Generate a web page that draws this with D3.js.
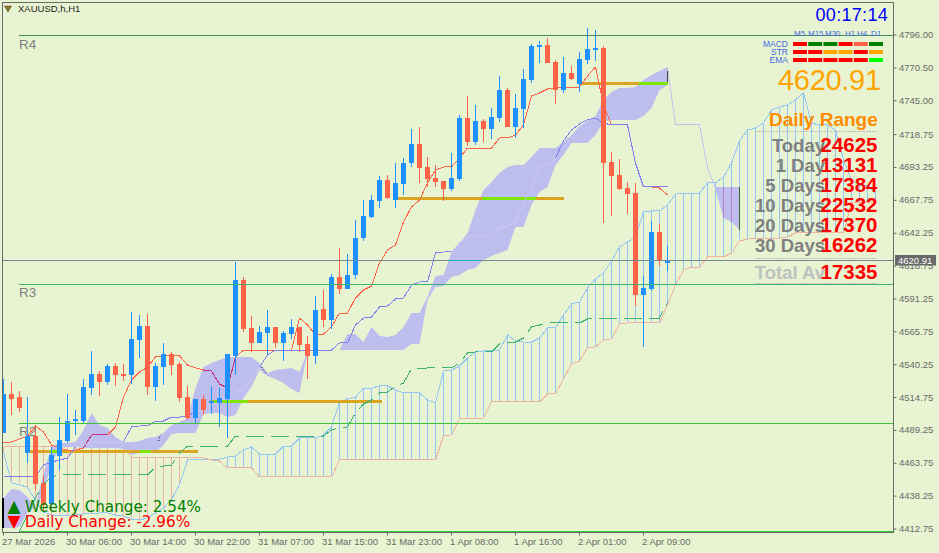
<!DOCTYPE html>
<html>
<head>
<meta charset="utf-8">
<script src="https://cdn.jsdelivr.net/npm/d3@7"></script>
<style>
html, body { margin: 0; padding: 0; background: #E8F4D1; overflow: hidden; }
svg { display: block; font-family: "Liberation Sans", Arial, sans-serif; }
.axis text { fill: #696969; font-size: 9.5px; font-family: "Liberation Sans", Arial, sans-serif; }
.axis line { stroke: #696969; }
</style>
</head>
<body>
<div id="chart"></div>
<script>
// candles, one per hour
var opens = [4487.2,4517.5,4515.2,4471.7,4484.9,4448.5,4432.2,4469.4,4481.0,4496.5,
    4496.5,4522.1,4533.0,4526.8,4539.2,4533.0,4532.2,4559.4,4570.2,4522.9,
    4538.4,4548.5,4540.8,4515.2,4498.9,4513.6,4510.5,4510.5,4513.6,4547.0,
    4605.9,4568.7,4557.1,4564.8,4569.5,4557.1,4564.0,4569.5,4556.3,4547.0,
    4583.4,4574.9,4608.2,4598.9,4609.8,4638.5,4654.8,4667.2,4683.5,4668.0,
    4680.4,4696.7,4711.4,4693.6,4685.0,4682.7,4676.5,4684.3,4731.6,4713.0,
    4729.3,4723.1,4731.6,4753.3,4724.6,4738.6,4761.1,4786.7,4788.2,4775.0,
    4753.3,4766.5,4758.0,4776.6,4784.4,4785.9,4697.5,4687.4,4677.3,4673.4,
    4594.3,4598.9,4643.2,4620.7];
var highs = [4529.1,4526.8,4519.8,4515.2,4493.4,4454.7,4476.4,4499.6,4517.5,4505.1,
    4529.1,4550.9,4535.3,4540.8,4541.5,4540.8,4581.1,4578.8,4579.5,4541.5,
    4557.1,4550.1,4542.3,4523.7,4513.6,4516.7,4523.7,4522.1,4548.5,4619.9,
    4608.2,4578.0,4570.2,4582.6,4569.5,4566.4,4575.7,4569.5,4562.5,4593.5,
    4598.2,4610.6,4630.8,4626.1,4652.5,4668.0,4671.9,4686.6,4687.4,4696.7,
    4700.6,4723.1,4724.6,4701.3,4695.1,4682.7,4704.4,4733.9,4748.7,4741.7,
    4730.8,4739.4,4764.2,4754.9,4750.2,4769.6,4789.0,4791.3,4793.7,4776.6,
    4778.9,4771.9,4782.8,4801.4,4799.9,4787.5,4705.2,4699.8,4681.9,4681.2,
    4609.0,4651.7,4649.4,4632.3];
var lows = [4487.2,4501.2,4503.5,4464.0,4443.0,4427.5,4431.4,4458.5,4479.5,4485.7,
    4495.0,4516.7,4515.9,4524.5,4523.7,4527.6,4525.2,4545.4,4516.7,4512.1,
    4524.5,4532.2,4511.3,4497.3,4495.0,4501.2,4502.0,4491.9,4483.4,4532.2,
    4565.6,4550.1,4557.1,4548.5,4553.2,4543.1,4560.2,4550.1,4529.1,4540.8,
    4569.5,4567.9,4595.1,4598.9,4606.7,4636.2,4654.0,4661.8,4668.8,4661.8,
    4671.9,4693.6,4681.2,4678.1,4678.1,4667.2,4675.0,4682.7,4709.9,4710.6,
    4713.0,4715.3,4728.5,4724.6,4716.1,4723.8,4758.7,4774.3,4774.3,4742.5,
    4751.0,4761.1,4751.8,4773.5,4775.8,4650.1,4655.6,4675.8,4657.1,4585.8,
    4554.0,4597.4,4616.8,4612.9];
var closes = [4517.5,4513.6,4506.6,4484.9,4447.7,4431.4,4470.2,4481.8,4496.5,4498.1,
    4522.9,4533.0,4526.8,4539.2,4532.2,4532.2,4560.2,4570.2,4522.9,4539.2,
    4548.5,4540.0,4514.4,4498.9,4513.6,4505.1,4512.1,4514.4,4548.5,4605.9,
    4567.9,4557.1,4565.6,4569.5,4557.1,4564.8,4569.5,4555.5,4547.0,4582.6,
    4574.9,4608.2,4598.9,4609.8,4638.5,4655.6,4668.0,4683.5,4669.5,4681.2,
    4696.7,4711.4,4692.8,4684.3,4681.9,4676.5,4685.0,4731.6,4713.0,4729.3,
    4723.1,4732.4,4753.3,4724.6,4739.4,4761.9,4787.5,4788.2,4774.3,4753.3,
    4766.5,4761.9,4777.4,4785.1,4785.9,4696.7,4686.6,4676.5,4672.6,4594.3,
    4599.7,4643.2,4620.7,4620.91];

// ichimoku lines
var tenkan = [4479.5,4480.3,4482.6,4484.9,4492.7,4488.0,4477.9,4475.6,4474.0,4474.0,
    4475.6,4485.7,4485.7,4485.7,4491.9,4515.2,4528.3,4534.5,4538.4,4546.2,
    4547.0,4547.0,4547.0,4540.0,4537.7,4536.1,4535.3,4525.2,4522.1,4546.2,
    4551.6,4551.6,4551.6,4551.6,4551.6,4551.6,4551.6,4576.4,4571.0,4563.3,
    4564.0,4569.5,4580.3,4580.3,4592.0,4598.2,4601.3,4619.1,4629.2,4633.1,
    4650.9,4662.6,4668.0,4681.2,4691.3,4693.6,4693.6,4700.6,4708.3,4708.3,
    4708.3,4708.3,4716.1,4716.1,4718.4,4726.2,4748.7,4751.0,4754.1,4754.9,
    4754.9,4754.9,4755.7,4764.2,4771.2,4741.7,4726.2,4726.2,4726.2,4696.7,
    4678.1,4678.1,4677.3,4671.9];
var kijun = [4453.1,4453.1,4453.1,4453.1,4453.1,4462.4,4464.7,4466.3,4467.8,4476.4,
    4477.9,4479.5,4479.5,4479.5,4479.5,4480.3,4491.9,4492.7,4492.7,4496.5,
    4496.5,4499.6,4499.6,4500.4,4503.5,4505.1,4508.9,4511.3,4516.7,4519.0,
    4520.6,4528.3,4538.4,4547.7,4551.6,4551.6,4551.6,4551.6,4551.6,4551.6,
    4551.6,4551.6,4557.1,4557.1,4571.0,4576.4,4577.2,4585.0,4585.8,4591.2,
    4592.0,4602.0,4604.4,4604.4,4626.9,4627.7,4627.7,4634.6,4639.3,4639.3,
    4639.3,4639.3,4646.3,4647.8,4650.9,4665.7,4678.1,4693.6,4695.1,4700.6,
    4713.8,4722.3,4727.0,4730.1,4731.6,4727.7,4726.2,4726.2,4726.2,4696.7,
    4678.1,4678.1,4678.1,4678.1];
// the pale line running on past the last candle, bars 83 to 89
var paleLine = [4771.2,4726.2,4726.2,4726.2,4726.2,4692.8,4677.3];
// dashed green line, starts at bar 2
var laggingLine = [4411.2,4423.6,4436.8,4447.7,4453.1,4454.7,4454.7,4454.7,4454.7,4454.7,
    4454.7,4454.7,4454.7,4454.7,4454.7,4454.7,4454.7,4460.8,4461.6,4462.4,
    4471.7,4477.1,4477.1,4477.1,4477.1,4477.1,4477.1,4484.9,4484.9,4484.9,
    4484.9,4484.9,4484.9,4484.9,4484.9,4484.9,4484.9,4484.9,4484.9,4489.6,
    4491.1,4491.9,4502.8,4509.7,4512.8,4518.3,4519.0,4523.7,4526.0,4536.9,
    4536.9,4537.7,4537.7,4537.7,4537.7,4541.5,4549.3,4550.1,4550.1,4550.1,
    4556.3,4557.1,4557.8,4560.9,4569.5,4571.0,4572.6,4572.6,4572.6,4572.6,
    4572.6,4575.7,4576.4,4576.4,4576.4,4576.4,4576.4,4576.4,4576.4,4576.4,
    4576.4,4588.1];

// hatched band, runs past the candles
var bandBlue = [4472.5,4448.5,4446.9,4445.3,4435.2,4425.9,4423.6,4423.6,4423.6,4423.6,
    4424.4,4424.4,4425.2,4425.2,4423.6,4422.8,4420.5,4419.7,4421.3,4425.2,
    4429.0,4436.0,4446.9,4466.3,4467.0,4467.0,4467.0,4467.0,4468.6,4469.4,
    4474.0,4476.4,4470.9,4470.2,4470.9,4477.1,4477.1,4483.4,4483.4,4483.4,
    4485.7,4491.9,4511.3,4513.6,4515.2,4522.1,4522.1,4523.7,4523.7,4520.6,
    4518.3,4518.3,4518.3,4512.8,4510.5,4535.3,4536.1,4539.2,4545.4,4550.1,
    4550.9,4550.9,4551.6,4563.3,4558.6,4557.8,4557.8,4560.9,4568.7,4568.7,
    4578.8,4587.3,4588.9,4599.7,4606.7,4611.4,4620.7,4631.5,4635.4,4639.3,
    4658.7,4659.5,4659.5,4664.1,4672.6,4673.4,4673.4,4673.4,4681.2,4681.2,
    4685.8,4696.7,4713.8,4722.3,4723.8,4727.7,4737.8,4740.1,4741.7,4745.6,
    4751.0,4727.7,4726.2,4726.2,4722.3,4699.0,4683.5,4679.6,4679.6,4673.4];
var bandSalmon = [4476.4,4476.4,4476.4,4476.4,4476.4,4476.4,4476.4,4476.4,4476.4,4476.4,
    4476.4,4476.4,4476.4,4476.4,4476.4,4476.4,4468.6,4468.6,4468.6,4468.6,
    4468.6,4468.6,4468.6,4468.6,4468.6,4467.8,4466.3,4465.5,4460.1,4460.1,
    4460.1,4460.1,4453.1,4453.1,4453.1,4453.1,4453.1,4453.1,4453.1,4453.1,
    4453.1,4453.1,4466.3,4466.3,4466.3,4466.3,4466.3,4466.3,4466.3,4466.3,
    4466.3,4466.3,4466.3,4466.3,4466.3,4484.9,4485.7,4498.1,4498.1,4498.1,
    4498.9,4511.3,4511.3,4511.3,4511.3,4511.3,4511.3,4511.3,4517.5,4517.5,
    4529.1,4540.8,4543.1,4553.2,4554.0,4559.4,4560.2,4571.8,4572.6,4572.6,
    4572.6,4572.6,4572.6,4586.5,4602.0,4613.7,4616.0,4616.0,4623.8,4623.8,
    4623.8,4626.9,4636.2,4637.7,4638.5,4638.5,4638.5,4638.5,4639.3,4642.4,
    4642.4,4642.4,4642.4,4642.4,4642.4,4642.4,4665.7,4665.7,4665.7,4665.7];

// cloud edges per bar, null where there is no cloud
var cloudTop = [4436.8,4443.8,4443.0,4437.6,4429.8,4456.2,4476.4,4479.5,4479.5,4480.3,
    4489.6,4502.8,4493.4,4491.1,4484.1,4480.3,4480.3,4481.0,4483.4,4484.1,
    4487.2,4493.4,4495.8,4498.9,4522.1,4538.4,4541.5,4543.9,4546.2,4546.2,
    4546.2,4546.2,4541.5,4533.8,4536.1,4536.9,4537.7,4534.5,4550.9,null,
    null,null,4551.6,4564.0,4564.0,4557.8,4569.5,4562.5,4561.7,4563.3,
    4569.5,4580.3,4580.3,4592.7,4609.0,4609.8,4627.7,4634.6,4642.4,4660.2,
    4675.8,4681.9,4688.9,4693.6,4695.1,4695.1,4701.3,4708.3,4708.3,4708.3,
    4713.0,4718.4,4725.4,4729.3,4733.2,4745.6,4751.8,4754.9,4754.9,4755.7,
    4761.1,4765.0,4768.1,4771.2,null,null,null,null,null,4678.1,
    4678.1,4678.1,4678.1];
var cloudBottom = [4413.5,4413.5,4414.3,4425.2,4429.8,4440.7,4464.0,4475.6,4476.4,4476.4,
    4475.6,4475.6,4475.6,4475.6,4475.6,4474.8,4470.2,4471.7,4471.7,4472.5,
    4477.9,4486.5,4487.2,4487.2,4487.2,4502.0,4502.8,4502.8,4499.6,4501.2,
    4514.4,4522.9,4536.1,4531.5,4529.1,4526.0,4521.4,4518.3,4550.1,null,
    null,null,4551.6,4551.6,4551.6,4551.6,4551.6,4551.6,4551.6,4551.6,
    4551.6,4556.3,4556.3,4590.4,4600.5,4601.3,4608.2,4609.8,4613.7,4615.2,
    4621.4,4624.6,4626.9,4629.2,4647.0,4647.0,4664.1,4674.2,4678.1,4695.1,
    4702.9,4712.2,4712.2,4712.2,4718.4,4728.5,4730.1,4730.1,4730.1,4730.1,
    4733.2,4739.4,4753.3,4757.2,null,null,null,null,null,4675.8,
    4654.0,4650.9,4644.7];

// thick level segments: start bar, end bar, price
var levelStarts = [3.1, 25.75, 49.25, 72.1];
var levelEnds = [24.25, 47.25, 70.1, 83];
var levelPrices = [4472.5, 4511.3, 4668.8, 4758.7];
// lime parts of those levels
var limeStarts = [5.8, 17, 26.25, 59.75, 79.4];
var limeEnds = [7.2, 18.4, 30.5, 66.5, 83];
var limePrices = [4472.5, 4472.5, 4511.3, 4668.8, 4758.7];

var pivotNames = ['R4', 'R3', 'R2', ''];
var pivotPrices = [4796, 4602.8, 4494.9, 4410.9];

var lastPrice = 4620.91;
var yTicks = [4796.00,4770.50,4745.00,4718.75,4693.25,4667.75,4642.25,4616.75,4591.25,4565.75,4540.25,4514.75,4489.25,4463.75,4438.25,4412.75];
var xTickBars = [0,8,16,24,32,40,48,56,64,72,80];
var xTickLabels = ['27 Mar 2026','30 Mar 06:00','30 Mar 14:00','30 Mar 22:00','31 Mar 07:00','31 Mar 15:00','31 Mar 23:00','1 Apr 08:00','1 Apr 16:00','2 Apr 01:00','2 Apr 09:00'];

// signal panel
var timeframes = ['M5','M15','M30','H1','H4','D1'];
var macdStates = ['sell','buy','buy','sell','weak','buy'];
var strStates = ['sell','sell','flat','flat','sell','flat'];
var emaStates = ['sell','sell','sell','sell','sell','strong'];
var rangeLabels = ['Today','1 Day','5 Days','10 Days','20 Days','30 Days','Total Av'];
var rangeValues = [24625,13131,17384,22532,17370,16262,17335];

var width = 939,
    height = 553,
    blue = '#1E90FF',
    red = '#FF6347';

var x = d3.scaleLinear().domain([0, 1]).range([3.5, 11.5]);
var y = d3.scaleLinear().domain([4412.75, 4796]).range([529, 35]);

var svg = d3.select('#chart').append('svg')
    .attr('width', width)
    .attr('height', height);

svg.append('defs').append('clipPath').attr('id', 'plot')
    .append('rect').attr('x', 3).attr('y', 3).attr('width', 890).attr('height', 529);

var plot = svg.append('g').attr('clip-path', 'url(#plot)');

function crisp(v) { return Math.floor(v) + 0.5; }

// hatch
var hatch = plot.append('g').attr('shape-rendering', 'crispEdges');
hatch.selectAll('line').data(bandBlue).enter().append('line')
    .attr('x1', function (d, i) { return x(i); })
    .attr('x2', function (d, i) { return x(i); })
    .attr('y1', function (d) { return y(d); })
    .attr('y2', function (d, i) { return y(bandSalmon[i]); })
    .attr('stroke', function (d, i) { return d >= bandSalmon[i] ? '#93C6F5' : '#EFB4A0'; });

function drawLine(values, start, color, dash) {
    var line = d3.line()
        .x(function (d, i) { return x(i + start); })
        .y(function (d) { return y(d); });
    return plot.append('path')
        .attr('d', line(values))
        .attr('fill', 'none')
        .attr('stroke', color)
        .attr('stroke-dasharray', dash || null)
        .attr('shape-rendering', 'crispEdges');
}

drawLine(bandBlue, 0, '#93C6F5');
drawLine(bandSalmon, 0, '#EFB4A0');

// cloud
var area = d3.area()
    .defined(function (d) { return d != null; })
    .x(function (d, i) { return x(i); })
    .y0(function (d, i) { return y(cloudBottom[i]); })
    .y1(function (d) { return y(d); });
plot.append('path').attr('d', area(cloudTop)).attr('fill', '#BEBEEE');

// hatch lines that show through the last cloud, and its closing edges
[90, 91].forEach(function (i) {
    plot.append('line').attr('x1', x(i)).attr('x2', x(i))
        .attr('y1', y(cloudTop[i])).attr('y2', y(cloudBottom[i]))
        .attr('stroke', '#B57FD0').attr('shape-rendering', 'crispEdges');
});
[[83, '#444444'], [92, '#2F6B2F']].forEach(function (e) {
    plot.append('line').attr('x1', x(e[0])).attr('x2', x(e[0]))
        .attr('y1', y(cloudTop[e[0]])).attr('y2', y(cloudBottom[e[0]]))
        .attr('stroke', e[1]).attr('shape-rendering', 'crispEdges');
});

// levels
plot.selectAll('.level').data(levelPrices).enter().append('line')
    .attr('class', 'level')
    .attr('x1', function (d, i) { return x(levelStarts[i]); })
    .attr('x2', function (d, i) { return x(levelEnds[i]); })
    .attr('y1', function (d) { return y(d); })
    .attr('y2', function (d) { return y(d); })
    .attr('stroke', '#DAA520')
    .attr('stroke-width', 3)
    .attr('shape-rendering', 'crispEdges');
plot.selectAll('.lime').data(limePrices).enter().append('line')
    .attr('class', 'lime')
    .attr('x1', function (d, i) { return x(limeStarts[i]); })
    .attr('x2', function (d, i) { return x(limeEnds[i]); })
    .attr('y1', function (d) { return y(d); })
    .attr('y2', function (d) { return y(d); })
    .attr('stroke', '#7FE600')
    .attr('stroke-width', 3)
    .attr('shape-rendering', 'crispEdges');

// pivots and the last price line
var pivotColor = d3.scaleOrdinal().domain(pivotNames).range(['#3F8F5B', '#3CB371', '#3CC43C', '#32CD32']);
svg.selectAll('.pivot').data(pivotPrices).enter().append('line')
    .attr('class', 'pivot')
    .attr('x1', 19)
    .attr('x2', 893)
    .attr('y1', function (d) { return crisp(y(d)); })
    .attr('y2', function (d) { return crisp(y(d)); })
    .attr('stroke', function (d, i) { return pivotColor(pivotNames[i]); })
    .attr('shape-rendering', 'crispEdges');

svg.append('line')
    .attr('x1', 3).attr('x2', 893)
    .attr('y1', crisp(y(lastPrice))).attr('y2', crisp(y(lastPrice)))
    .attr('stroke', '#778899')
    .attr('shape-rendering', 'crispEdges');
svg.append('line')
    .attr('x1', x(55.6)).attr('x2', x(59.6))
    .attr('y1', crisp(y(lastPrice))).attr('y2', crisp(y(lastPrice)))
    .attr('stroke', '#18B8B8')
    .attr('shape-rendering', 'crispEdges');

// lines change colour inside the cloud
function insideCloud(v, i) {
    return cloudTop[i] != null && v <= cloudTop[i] && v >= cloudBottom[i];
}
function drawSegments(values, color, cloudColor) {
    var pairs = d3.pairs(values.map(function (v, i) { return { i: i, v: v }; }));
    plot.append('g').attr('shape-rendering', 'crispEdges')
        .selectAll('line').data(pairs).enter().append('line')
        .attr('x1', function (d) { return x(d[0].i); })
        .attr('x2', function (d) { return x(d[1].i); })
        .attr('y1', function (d) { return y(d[0].v); })
        .attr('y2', function (d) { return y(d[1].v); })
        .attr('stroke', function (d) {
            return insideCloud(d[0].v, d[0].i) && insideCloud(d[1].v, d[1].i) ? cloudColor : color;
        });
}

drawLine(laggingLine.slice(), 2, '#3CB371', '18 7');
drawSegments(tenkan, red, '#C0307A');
drawSegments(kijun, '#8080F0', '#C9C9EC');
drawLine(paleLine, 83, '#C4C4F0');

// small dotted crossings
var crossBars = [[19.4, 19.6], [32.25, 32.9]];
var crossPrices = [[4481.0, 4485.7], [4538.4, 4533.0]];
crossBars.forEach(function (b, i) {
    plot.append('line')
        .attr('x1', x(b[0])).attr('x2', x(b[1]))
        .attr('y1', y(crossPrices[i][0])).attr('y2', y(crossPrices[i][1]))
        .attr('stroke', '#000').attr('stroke-dasharray', '1 2');
});

// candles
var candles = plot.append('g').attr('shape-rendering', 'crispEdges')
    .selectAll('g').data(opens).enter().append('g');
function candleColor(i) { return closes[i] >= opens[i] ? blue : red; }
candles.append('line')
    .attr('x1', function (d, i) { return x(i); })
    .attr('x2', function (d, i) { return x(i); })
    .attr('y1', function (d, i) { return y(highs[i]); })
    .attr('y2', function (d, i) { return y(lows[i]); })
    .attr('stroke', function (d, i) { return candleColor(i); });
candles.append('rect')
    .attr('x', function (d, i) { return x(i) - 2.5; })
    .attr('width', 5)
    .attr('y', function (d, i) { return Math.round(y(Math.max(opens[i], closes[i]))); })
    .attr('height', function (d, i) {
        return Math.max(2, Math.round(Math.abs(y(opens[i]) - y(closes[i]))));
    })
    .attr('fill', function (d, i) { return candleColor(i); });

// frame
svg.append('rect')
    .attr('x', 2.5).attr('y', 2.5).attr('width', 891).attr('height', 530)
    .attr('fill', 'none').attr('stroke', '#696969')
    .attr('shape-rendering', 'crispEdges');
svg.append('line')
    .attr('x1', 3).attr('x2', 3).attr('y1', 498).attr('y2', 528)
    .attr('stroke', '#000').attr('stroke-width', 2);

// axes
var yAxis = d3.axisRight(y).tickValues(yTicks).tickSize(3).tickPadding(2.5).offset(0)
    .tickFormat(d3.format('.2f'));
svg.append('g').attr('class', 'axis').attr('transform', 'translate(893.5,0)').call(yAxis)
    .call(function (g) { g.select('.domain').remove(); });

var xAxis = d3.axisBottom(x).tickValues(xTickBars).tickSize(3).tickPadding(2.8).offset(0)
    .tickFormat(function (d, i) { return xTickLabels[i]; });
svg.append('g').attr('class', 'axis').attr('transform', 'translate(0,532.5)').call(xAxis)
    .call(function (g) {
        g.select('.domain').remove();
        g.selectAll('text').attr('text-anchor', 'start').attr('dx', -1.5);
    });

// last price tag
svg.append('rect')
    .attr('x', 895).attr('y', 255).attr('width', 41).attr('height', 10.5)
    .attr('fill', '#696969');
svg.append('text')
    .attr('x', 898).attr('y', 263.7)
    .attr('fill', '#fff').attr('font-size', 9.5)
    .text(d3.format('.2f')(lastPrice));

// top left title
svg.append('path')
    .attr('d', d3.symbol().type(d3.symbolTriangle).size(22))
    .attr('transform', 'translate(8,8) rotate(180)')
    .attr('fill', '#8A7A2A').attr('stroke', '#444').attr('stroke-width', 0.5);
svg.append('text')
    .attr('x', 18).attr('y', 12)
    .attr('font-size', 9.5).attr('fill', '#222')
    .text('XAUUSD,h,H1');

// pivot names
svg.selectAll('.pivotName').data(pivotNames).enter().append('text')
    .attr('class', 'pivotName')
    .attr('x', 19)
    .attr('y', function (d, i) { return [49, 297, 436, 0][i]; })
    .attr('font-size', 13.5)
    .attr('fill', '#808080')
    .text(function (d) { return d; });

// clock
svg.append('text')
    .attr('x', 888).attr('y', 21)
    .attr('text-anchor', 'end')
    .attr('font-size', 18).attr('letter-spacing', 0.3)
    .attr('fill', '#0000FF')
    .text('00:17:14');

// signal table
var cell = d3.scaleBand().domain(timeframes).range([793, 883]).paddingInner(0.08);
var stateColor = d3.scaleOrdinal()
    .domain(['sell', 'buy', 'weak', 'flat', 'strong'])
    .range(['#FF0000', '#008000', '#FF6347', '#FFA500', '#00FF00']);
var tfLabel = [794, 808, 825, 845, 857, 871];
svg.selectAll('.tf').data(timeframes).enter().append('text')
    .attr('class', 'tf')
    .attr('x', function (d, i) { return tfLabel[i]; })
    .attr('y', 36)
    .attr('font-size', 8).attr('fill', '#4169E1')
    .text(function (d) { return d; });

[['MACD', macdStates, 42], ['STR', strStates, 50], ['EMA', emaStates, 58]].forEach(function (row) {
    svg.append('text')
        .attr('x', 788).attr('y', row[2] + 4.5)
        .attr('text-anchor', 'end')
        .attr('font-size', 8.5).attr('fill', '#4169E1')
        .text(row[0]);
    svg.selectAll('.s' + row[0]).data(row[1]).enter().append('rect')
        .attr('class', 's' + row[0])
        .attr('x', function (d, i) { return cell(timeframes[i]); })
        .attr('y', row[2])
        .attr('width', cell.bandwidth())
        .attr('height', 4)
        .attr('fill', function (d) { return stateColor(d); });
});

// big price
svg.append('text')
    .attr('x', 778).attr('y', 90)
    .attr('font-size', 29).attr('letter-spacing', -0.3)
    .attr('fill', '#FFA500')
    .text(d3.format('.2f')(lastPrice));

svg.append('text')
    .attr('x', 769).attr('y', 126)
    .attr('font-size', 19).attr('font-weight', 'bold')
    .attr('fill', '#FF8C00')
    .text('Daily Range');

// daily range table
[131.5, 258.5, 283.5].forEach(function (ly) {
    svg.append('line')
        .attr('x1', 755).attr('x2', 878)
        .attr('y1', ly).attr('y2', ly)
        .attr('stroke', '#BDBDBD').attr('stroke-dasharray', '2 1')
        .attr('shape-rendering', 'crispEdges');
});
var rowY = [152, 172, 192, 212, 232, 252, 279];
svg.selectAll('.rangeLabel').data(rangeLabels).enter().append('text')
    .attr('class', 'rangeLabel')
    .attr('x', 825)
    .attr('y', function (d, i) { return rowY[i]; })
    .attr('text-anchor', 'end')
    .attr('font-size', 18.5).attr('font-weight', 'bold')
    .attr('fill', function (d, i) { return i == 6 ? '#C0C0C0' : '#808080'; })
    .text(function (d) { return d; });
svg.selectAll('.rangeValue').data(rangeValues).enter().append('text')
    .attr('class', 'rangeValue')
    .attr('x', 877.5)
    .attr('y', function (d, i) { return rowY[i]; })
    .attr('text-anchor', 'end')
    .attr('font-size', 20.5).attr('font-weight', 'bold')
    .attr('fill', '#FF0000')
    .text(function (d) { return d; });

// change labels
var changeTexts = ['Weekly Change: 2.54%', 'Daily Change: -2.96%'];
var changeMarks = ['▲', '▼'];
var changeColors = ['#008000', '#FF0000'];
changeTexts.forEach(function (t, i) {
    var baseY = [512, 527][i];
    svg.append('text')
        .attr('x', 7.5).attr('y', baseY)
        .attr('font-family', '"DejaVu Sans"').attr('font-size', 17)
        .attr('fill', changeColors[i])
        .text(changeMarks[i]);
    svg.append('text')
        .attr('x', 25).attr('y', baseY)
        .attr('font-family', '"DejaVu Sans"').attr('font-size', 15.2)
        .attr('fill', changeColors[i])
        .text(t);
});
</script>
</body>
</html>
